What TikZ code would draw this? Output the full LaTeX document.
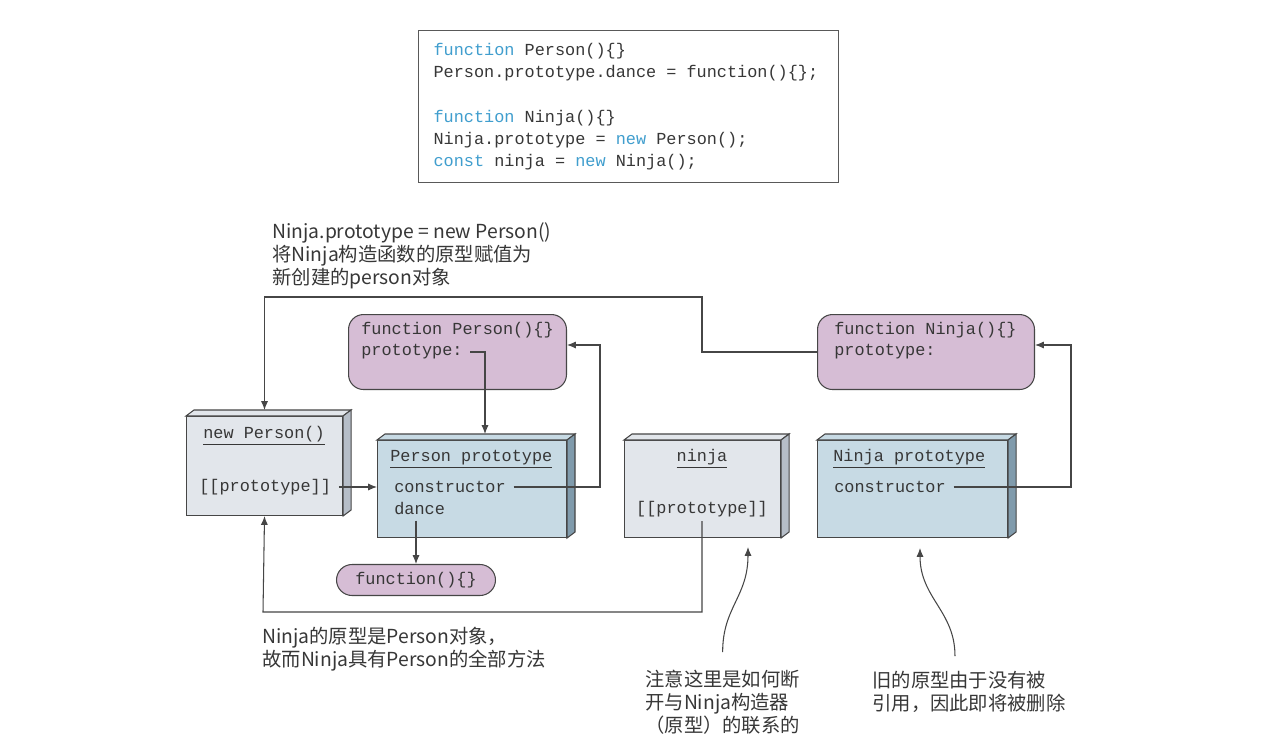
\documentclass[tikz,border=0pt]{standalone}
\usepackage{fontspec}
\setmonofont{Liberation Mono}
\newfontfamily\cjk{Noto Sans CJK SC}
\usetikzlibrary{arrows.meta}
\definecolor{fnfill}{RGB}{214,189,213}
\definecolor{protofill}{RGB}{199,218,228}
\definecolor{protoside}{RGB}{128,155,172}
\definecolor{objfill}{RGB}{226,230,235}
\definecolor{objside}{RGB}{182,190,200}
\definecolor{kw}{RGB}{64,158,206}
\definecolor{ink}{RGB}{55,55,55}
\definecolor{linecol}{RGB}{70,70,70}
\tikzset{>={Latex[length=5pt,width=4pt]}}
\tikzset{
  wire/.style={draw=linecol, line width=0.6pt},
  fromtext/.style={shorten <=0.15cm},
  fnbox/.style={draw=linecol, fill=fnfill, rounded corners=0.3cm, line width=0.6pt,
    anchor=north west, inner sep=0},
  objbox/.style={draw=linecol, fill=objfill, line width=0.6pt, anchor=north west, inner sep=0},
  protobox/.style={objbox, fill=protofill},
  mono/.style={font=\fontsize{9.6}{12.6}\selectfont\ttfamily, text=ink, inner sep=0, anchor=west},
  note/.style={font=\fontsize{11}{13.1}\selectfont\cjk, text=ink, align=left,
    anchor=north west, inner sep=0}
}
% side and top faces of a box node: node, side colour, top colour
\newcommand{\objfaces}[3]{%
  \filldraw[draw=linecol, line width=0.6pt, fill=#3] (#1.north west) -- ++(8,-6)
    -- ([shift={(8,-6)}]#1.north east) -- (#1.north east) -- cycle;
  \filldraw[draw=linecol, line width=0.6pt, fill=#2] (#1.north east) -- ++(8,-6)
    -- ([shift={(8,-6)}]#1.south east) -- (#1.south east) -- cycle;
}

\begin{document}
\begin{tikzpicture}[x=0.02cm, y=-0.02cm]
  \useasboundingbox[fill=white] (0,0) rectangle (1280,750);

  % the code
  \node[draw=gray!70!black, line width=0.7pt, anchor=north west, minimum width=8.4cm,
    minimum height=3.04cm, text width=7.8cm, inner xsep=0.3cm, inner ysep=0, align=left,
    font=\fontsize{9.6}{12.6}\selectfont\ttfamily, text=ink] (code) at (418,30)
    {\spaceskip=0pt\xspaceskip=0pt
     \textcolor{kw}{function} Person()\{\}\\
     Person.prototype.dance = function()\{\};\\[12.6pt]
     \textcolor{kw}{function} Ninja()\{\}\\
     Ninja.prototype = \textcolor{kw}{new} Person();\\
     \textcolor{kw}{const} ninja = \textcolor{kw}{new} Ninja();};

  % constructors
  \node[fnbox, minimum width=4.36cm, minimum height=1.5cm] (fnP) at (348,314) {};
  \node[mono] (fnPname) at (361,330) {function Person()\{\}};
  \node[mono] (fnPproto) at (361,352) {prototype:};
  \node[fnbox, minimum width=4.34cm, minimum height=1.5cm] (fnN) at (817,314) {};
  \node[mono] (fnNname) at (834,330) {function Ninja()\{\}};
  \node[mono] (fnNproto) at (834,352) {prototype:};

  % objects
  \node[objbox, minimum width=3.12cm, minimum height=1.98cm] (newP) at (186,416) {};
  \objfaces{newP}{objside}{objfill}
  \node[mono, anchor=center] (newPtitle) at (264,436) {\underline{new Person()}};
  \node[mono] (newPlink) at (199,487) {[[prototype]]};

  \node[protobox, minimum width=3.78cm, minimum height=1.94cm] (pProto) at (377,440) {};
  \objfaces{pProto}{protoside}{protofill}
  \node[mono] (pPtitle) at (390,459) {\underline{Person prototype}};
  \node[mono] (pPctor) at (394,487) {constructor};
  \node[mono] (pPdance) at (394,508) {dance};

  \node[objbox, minimum width=3.12cm, minimum height=1.94cm] (ninja) at (624,440) {};
  \objfaces{ninja}{objside}{objfill}
  \node[mono, anchor=center] (ninjaTitle) at (702,459) {\underline{ninja}};
  \node[mono, anchor=center] (ninjaLink) at (702,509) {[[prototype]]};

  \node[protobox, minimum width=3.8cm, minimum height=1.94cm] (nProto) at (817,440) {};
  \objfaces{nProto}{protoside}{protofill}
  \node[mono] (nPtitle) at (833,459) {\underline{Ninja prototype}};
  \node[mono] (nPctor) at (834,487) {constructor};

  \node[fnbox, mono, anchor=center, minimum width=3.18cm, minimum height=0.62cm,
    rounded corners=0.31cm] (fnAnon) at (416,580) {function()\{\}};

  % notes
  \node[note] (noteTop) at (272,222)
    {Ninja.prototype = new Person()\\将Ninja构造函数的原型赋值为\\新创建的person对象};
  \node[note] (noteLeft) at (262,627)
    {Ninja的原型是Person对象，\\故而Ninja具有Person的全部方法};
  \node[note] (noteCut) at (645,670)
    {注意这里是如何断\\开与Ninja构造器\\（原型）的联系的};
  \node[note] (noteOld) at (872,671)
    {旧的原型由于没有被\\引用，因此即将被删除};

  % links
  \coordinate (bendTop) at (702,297);
  \draw[wire, ->, shorten >=0.12cm] (fnN.west) -| (bendTop) -| (newP.north);
  \coordinate (bendP) at (485,352);
  \draw[wire, ->, fromtext, shorten >=0.12cm] (fnPproto.east) -- (bendP) -- (bendP |- pProto.north);
  \draw[wire, ->, fromtext] (newPlink.east) -- (newPlink.east -| pProto.west);
  \coordinate (bendPc) at (600,345);
  \draw[wire, ->, fromtext] (pPctor.east) -| (bendPc) -- (bendPc -| fnP.east);
  \draw[wire, ->] (fnAnon.north |- pPdance.south) ++(0,6) -- (fnAnon.north);
  \coordinate (bendBot) at (263,612);
  \draw[wire, ->, shorten <=0.08cm] (ninjaLink.south) |- (bendBot) -- (newP.south);
  \coordinate (bendNc) at (1071,345);
  \draw[wire, ->, fromtext] (nPctor.east) -| (bendNc) -- (bendNc -| fnN.east);

  % pointers from the notes
  \coordinate (cutTip) at (748,547);
  \draw[wire, ->] ([yshift=0.36cm]noteCut.north) .. controls +(0,-45) and +(0,50) .. (cutTip);
  \coordinate (oldTip) at (920,548);
  \draw[wire, ->] ([xshift=-0.28cm, yshift=0.3cm]noteOld.north) .. controls +(0,-45) and +(0,50) .. (oldTip);
\end{tikzpicture}
\end{document}
